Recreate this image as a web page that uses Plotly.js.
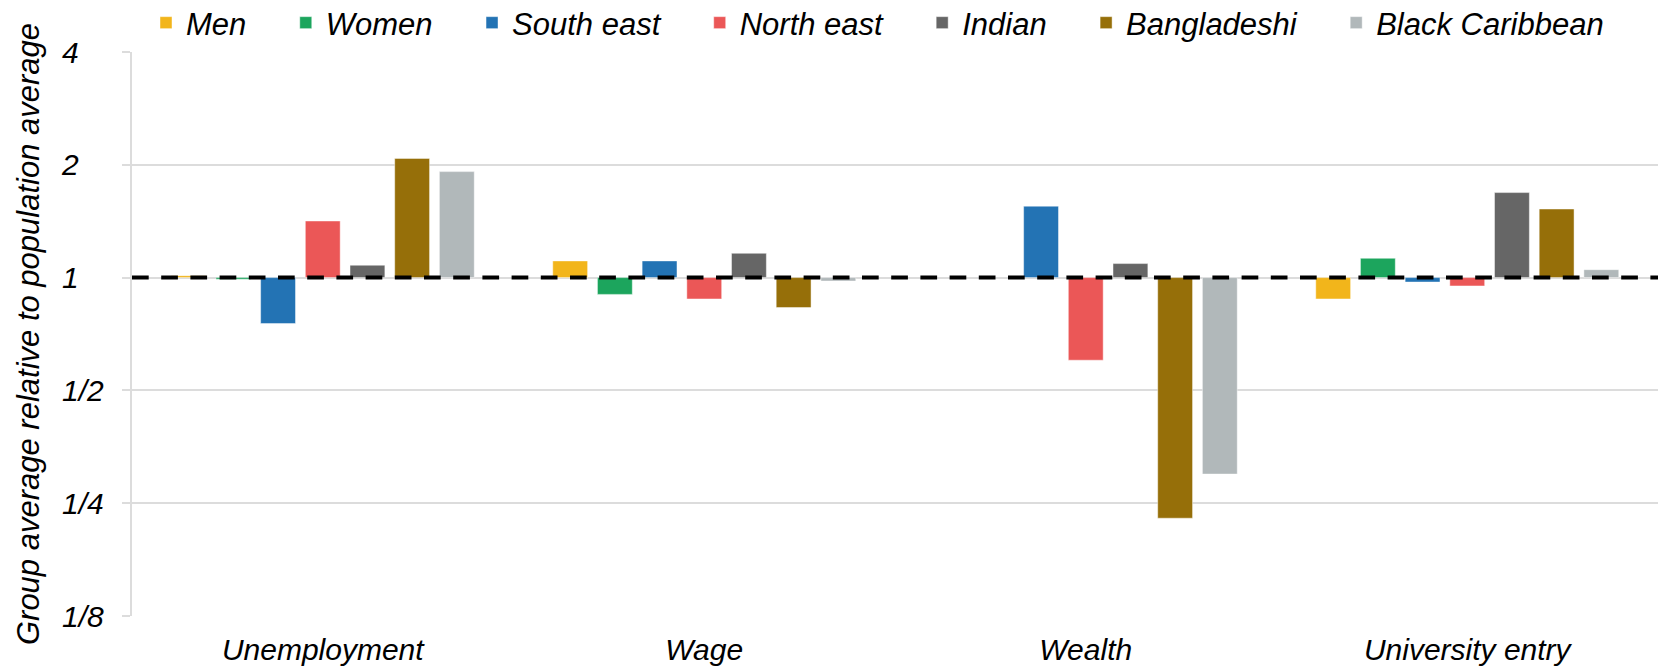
<!DOCTYPE html>
<html>
<head>
<meta charset="utf-8">
<script src="https://cdn.plot.ly/plotly-3.0.1.min.js"></script>
<style>
  html, body { margin: 0; padding: 0; background: #ffffff; }
  #chart { width: 1660px; height: 666px; }
</style>
</head>
<body>
<div id="chart"></div>
<script>
// ---- Data (group average relative to population average) ----
const categories = ['Unemployment', 'Wage', 'Wealth', 'University entry'];
const men            = [1.012, 1.108, null, 0.877];
const women          = [0.990, 0.902, null, 1.126];
const southEast      = [0.754, 1.108, 1.551, 0.973];
const northEast      = [1.416, 0.877, 0.602, 0.950];
const indian         = [1.079, 1.161, 1.090, 1.686];
const bangladeshi    = [2.080, 0.832, 0.228, 1.524];
const blackCaribbean = [1.918, 0.979, 0.299, 1.050];

const seriesNames  = ['Men', 'Women', 'South east', 'North east', 'Indian', 'Bangladeshi', 'Black Caribbean'];
const seriesValues = [men, women, southEast, northEast, indian, bangladeshi, blackCaribbean];
const seriesColors = ['#F2B51B', '#1CA55D', '#2373B4', '#EB5757', '#666666', '#966F09', '#B1B8BA'];

const tickVals = [0.125, 0.25, 0.5, 1, 2, 4];
const tickText = ['1/8', '1/4', '1/2', '1', '2', '4'];

const FONT = '"Liberation Sans", Arial, sans-serif';
const baseline = 1;
const yRange = [Math.log10(0.125), Math.log10(4)];
const legendPad = '\u00a0\u00a0\u00a0\u00a0';

const traces = seriesNames.map((name, i) => ({
  type: 'bar',
  name: name + legendPad,
  x: categories,
  // bars are drawn from the baseline (1) to the value
  base: baseline,
  y: seriesValues[i].map(v => (v === null ? null : v - baseline)),
  marker: { color: seriesColors[i], line: { color: 'rgba(255,255,255,0.45)', width: 1 } },
  hoverinfo: 'skip'
}));

const L = 58, R = 2, T = 52, B = 50;
const plotW = 1660 - L - R;
const plotH = 666 - T - B;
const axisStart = (132 - L) / plotW;

const layout = {
  width: 1660,
  height: 666,
  margin: { l: L, r: R, t: T, b: B, pad: 0, autoexpand: false },
  paper_bgcolor: '#ffffff',
  plot_bgcolor: '#ffffff',
  barmode: 'group',
  bargap: 0.18,
  bargroupgap: 0.22,
  font: { family: FONT, color: '#000000', style: 'italic' },
  showlegend: true,
  legend: {
    orientation: 'h',
    x: (146 - L) / plotW,
    xanchor: 'left',
    y: 1 + (T + 4) / plotH,
    yanchor: 'top',
    font: { family: FONT, size: 31, color: '#000000', style: 'italic' },
    bgcolor: 'rgba(0,0,0,0)',
    borderwidth: 0
  },
  xaxis: {
    type: 'category',
    domain: [axisStart, 1],
    range: [-0.5, 3.5],
    showgrid: false,
    zeroline: false,
    showline: false,
    ticks: '',
    ticklabelstandoff: 13,
    tickfont: { family: FONT, size: 30, color: '#000000', style: 'italic' },
    automargin: false,
    fixedrange: true
  },
  yaxis: {
    type: 'log',
    range: yRange,
    tickvals: tickVals,
    ticktext: tickText,
    showticklabels: false,
    showgrid: true,
    gridcolor: '#dcdcdc',
    gridwidth: 2,
    zeroline: false,
    showline: true,
    linecolor: '#dcdcdc',
    linewidth: 2,
    ticks: 'outside',
    ticklen: 8,
    tickwidth: 2,
    tickcolor: '#dcdcdc',
    title: {
      text: 'Group average relative to population average',
      font: { family: FONT, size: 31, color: '#000000', style: 'italic' },
      standoff: 73
    },
    automargin: false,
    fixedrange: true
  },
  yaxis2: {
    type: 'log',
    overlaying: 'y',
    range: yRange,
    anchor: 'free',
    position: 0,
    side: 'left',
    tickvals: tickVals,
    ticktext: tickText,
    ticklabelposition: 'inside',
    ticklabeloverflow: 'allow',
    ticks: '',
    showgrid: false,
    zeroline: false,
    showline: false,
    tickfont: { family: FONT, size: 30, color: '#000000', style: 'italic' },
    automargin: false,
    fixedrange: true
  },
  shapes: [{
    type: 'line',
    xref: 'x domain', x0: 0, x1: 1,
    yref: 'y', y0: baseline, y1: baseline,
    line: { color: '#000000', width: 4, dash: '16.7px,12.5px' },
    layer: 'above'
  }]
};

// invisible helper trace so the overlaying left axis (tick labels) is drawn
traces.push({
  type: 'scatter', x: [categories[0]], y: [1], yaxis: 'y2',
  mode: 'markers', marker: { opacity: 0 }, showlegend: false, hoverinfo: 'skip'
});

Plotly.newPlot('chart', traces, layout, { displayModeBar: false, staticPlot: true });
</script>
</body>
</html>
